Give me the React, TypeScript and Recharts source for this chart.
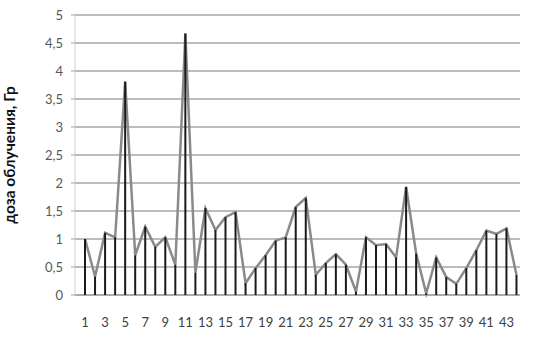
import { ComposedChart, Line, Bar, XAxis, YAxis, CartesianGrid } from "recharts";

// sample number 1..44 and dose (Gy)
const doses = [
  1.0, 0.33, 1.11, 1.03, 3.81, 0.71, 1.22, 0.86, 1.03, 0.54,
  4.67, 0.4, 1.55, 1.16, 1.39, 1.48, 0.21, 0.48, 0.71, 0.97,
  1.03, 1.57, 1.73, 0.36, 0.57, 0.73, 0.54, 0.06, 1.03, 0.89,
  0.91, 0.67, 1.93, 0.74, 0.03, 0.67, 0.32, 0.2, 0.48, 0.8,
  1.15, 1.09, 1.19, 0.36,
];
const xTicks = [1, 3, 5, 7, 9, 11, 13, 15, 17, 19, 21, 23, 25, 27, 29, 31, 33, 35, 37, 39, 41, 43];
const yTicks = [0, 0.5, 1, 1.5, 2, 2.5, 3, 3.5, 4, 4.5, 5];
const yTitle = "доза облучения, Гр";

const data = doses.map((dose, i) => ({ n: i + 1, dose }));

const font = "Lato, 'Open Sans', sans-serif";

export default function App() {
  return (
    <div style={{ position: "absolute", left: 0, top: 0, width: 546, height: 348, background: "#fff" }}>
      <ComposedChart
        width={546}
        height={348}
        data={data}
        margin={{ top: 15, right: 26, bottom: 0, left: 0 }}
      >
        <CartesianGrid vertical={false} stroke="#a6a6a6" strokeWidth={1.5} />
        <XAxis
          dataKey="n"
          type="number"
          domain={[0, 44.35]}
          ticks={xTicks}
          interval={0}
          height={53}
          tickLine={false}
          tickMargin={17}
          axisLine={{ stroke: "#a6a6a6", strokeWidth: 1.5 }}
          tick={{ fontSize: 13, fill: "#404040", fontFamily: font }}
        />
        <YAxis
          type="number"
          domain={[0, 5]}
          ticks={yTicks}
          interval={0}
          width={75}
          tickSize={4}
          tickMargin={8}
          tickFormatter={(v: number) => String(v).replace(".", ",")}
          axisLine={{ stroke: "#d0d0d0" }}
          tickLine={{ stroke: "#a6a6a6" }}
          tick={{ fontSize: 13, fill: "#595959", fontFamily: font }}
          label={{
            value: yTitle,
            angle: -90,
            position: "insideLeft",
            offset: 9,
            style: { fontSize: 15.5, fontWeight: "bold", fill: "#111", fontFamily: font, textAnchor: "middle" },
          }}
        />
        <Line
          dataKey="dose"
          type="linear"
          stroke="#8a8a8a"
          strokeWidth={2.5}
          dot={false}
          isAnimationActive={false}
        />
        <Bar dataKey="dose" barSize={2} fill="#1a1a1a" zIndex={500} isAnimationActive={false} />
      </ComposedChart>
    </div>
  );
}
